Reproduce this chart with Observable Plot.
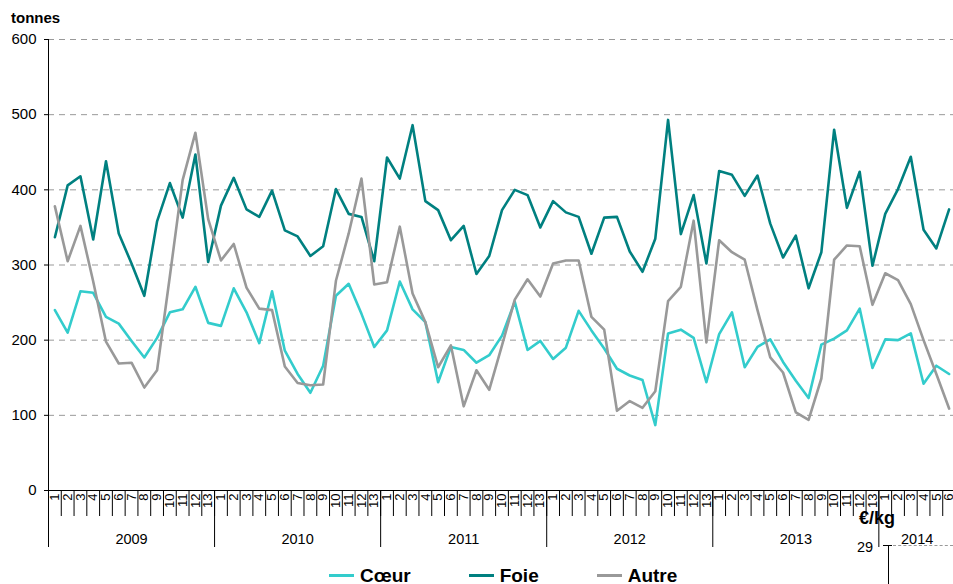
<!DOCTYPE html>
<html>
<head>
<meta charset="utf-8">
<script src="https://cdn.jsdelivr.net/npm/d3@7"></script>
<script src="https://cdn.jsdelivr.net/npm/@observablehq/plot@0.6"></script>
<style>
  body { margin: 0; background: #fff; font-family: "Liberation Sans", Arial, sans-serif; }
  #wrap { position: relative; width: 953px; height: 584px; overflow: hidden; background: #fff; }
  #chart { position: absolute; left: 0; top: 0; }
  .unit { position: absolute; left: 11px; top: 10px; font-size: 15px; line-height: 15px; font-weight: bold; color: #000; }
  #legend { position: absolute; left: 329px; top: 566px; display: flex; align-items: center; font-size: 19px; line-height: 19px; font-weight: bold; color: #000; }
  #legend .item { display: flex; align-items: center; margin-right: 58px; }
  #legend .sw { width: 25px; height: 3px; margin-right: 6px; }
  .art-t { position: absolute; color: #000; white-space: nowrap; }
</style>
</head>
<body>
<div id="wrap">
  <div id="chart"></div>
  <div class="unit">tonnes</div>
  <div id="legend"></div>
  <div class="art-t" style="left:859px; top:509px; font-size:18px; line-height:18px; font-weight:bold;">€/kg</div>
  <div class="art-t" style="left:857px; top:540px; font-size:14.5px; line-height:14.5px;">29</div>
  <div style="position:absolute; left:883px; top:545px; width:9px; height:0; border-top:1px solid #000;"></div>
  <div style="position:absolute; left:888px; top:545px; width:0; height:40px; border-left:1px solid #000;"></div>
  <div style="position:absolute; left:893px; top:545px; width:60px; height:0; border-top:1px dashed #999;"></div>
</div>
<script>
// ---- data ----
const years = ["2009", "2010", "2011", "2012", "2013", "2014"];
const periodsPerYear = [13, 13, 13, 13, 13, 6];

const seriesNames = ["Cœur", "Foie", "Autre"];
const seriesColors = ["#33CCCC", "#008080", "#999999"];

const coeur = [
  240, 210, 265, 263, 231, 222, 199, 177, 203, 237, 241, 271, 223,
  219, 269, 237, 196, 265, 186, 155, 130, 166, 259, 275, 235, 191,
  213, 278, 241, 224, 144, 191, 187, 170, 180, 206, 251, 187, 199,
  175, 190, 239, 213, 189, 162, 153, 147, 87, 209, 214, 203, 144,
  208, 237, 164, 191, 201, 171, 146, 123, 194, 202, 213, 242, 163,
  201, 200, 209, 142, 166, 155
];
const foie = [
  337, 406, 418, 334, 438, 342, 302, 259, 358, 409, 363, 447, 304,
  379, 416, 374, 364, 399, 346, 338, 312, 325, 401, 368, 364, 305,
  443, 415, 486, 385, 373, 333, 352, 288, 312, 373, 400, 393, 350,
  385, 370, 364, 315, 363, 364, 318, 291, 335, 493, 341, 393, 302,
  425, 420, 392, 419, 355, 310, 339, 269, 317, 480, 376, 424, 299,
  368, 401, 444, 347, 322, 374
];
const autre = [
  378, 305, 352, 278, 198, 169, 170, 137, 160, 285, 413, 476, 361,
  306, 328, 270, 242, 240, 165, 143, 140, 141, 279, 342, 415, 274,
  277, 351, 262, 224, 164, 193, 112, 160, 134, 193, 254, 281, 258,
  302, 306, 306, 231, 214, 106, 119, 110, 132, 252, 271, 359, 197,
  333, 317, 307, 240, 177, 157, 104, 94, 149, 307, 326, 325, 247,
  289, 280, 248, 200, 155, 109
];
const yTicks = [0, 100, 200, 300, 400, 500, 600];

// ---- derived tables ----
const periodLabels = [];
const yearBounds = [0];
const yearCenters = [];
let acc = 0;
periodsPerYear.forEach((n, k) => {
  for (let p = 1; p <= n; p++) periodLabels.push(String(p));
  yearCenters.push(acc + n / 2);
  acc += n;
  yearBounds.push(acc);
});
const N = periodLabels.length;
const centers = d3.range(N).map(i => i + 0.5);
const bounds = d3.range(N + 1);

const valuesBySeries = [coeur, foie, autre];
const rows = [];
seriesNames.forEach((s, k) => {
  valuesBySeries[k].forEach((v, i) => rows.push({series: s, xi: i + 0.5, value: v}));
});

const plot = Plot.plot({
  width: 953,
  height: 558,
  marginLeft: 48,
  marginRight: -2,
  marginTop: 39,
  marginBottom: 68,
  style: {fontFamily: "'Liberation Sans', Arial, sans-serif", background: "white", color: "#000", overflow: "visible"},
  x: {type: "linear", domain: [0, N], label: null},
  y: {domain: [0, 600], label: null},
  color: {domain: seriesNames, range: seriesColors},
  marks: [
    Plot.ruleY(yTicks.filter(d => d > 0), {stroke: "#999", strokeWidth: 1, strokeDasharray: "6,5"}),
    Plot.ruleX([0], {stroke: "#000", strokeWidth: 1}),
    Plot.ruleY([0], {stroke: "#000", strokeWidth: 1}),
    Plot.axisY(yTicks, {tickSize: 4, tickPadding: 8, fontSize: 15, label: null}),
    Plot.axisX(bounds, {tickSize: 26, text: null, label: null}),
    Plot.axisX(yearBounds, {tickSize: 57, text: null, label: null}),
    Plot.axisX(centers, {tickSize: 0, tickPadding: 3, tickRotate: -90, fontSize: 13, label: null,
      tickFormat: d => periodLabels[Math.floor(d)]}),
    Plot.axisX(yearCenters, {tickSize: 0, tickPadding: 43, fontSize: 14.5, label: null,
      tickFormat: d => years[yearCenters.indexOf(d)]}),
    Plot.line(rows, {x: "xi", y: "value", z: "series", stroke: "series", strokeWidth: 2.6})
  ]
});
document.getElementById("chart").appendChild(plot);

// ---- legend ----
const legend = document.getElementById("legend");
seriesNames.forEach((s, k) => {
  const item = document.createElement("div");
  item.className = "item";
  const sw = document.createElement("span");
  sw.className = "sw";
  sw.style.background = seriesColors[k];
  const t = document.createElement("span");
  t.textContent = s;
  item.appendChild(sw);
  item.appendChild(t);
  legend.appendChild(item);
});
</script>
</body>
</html>
